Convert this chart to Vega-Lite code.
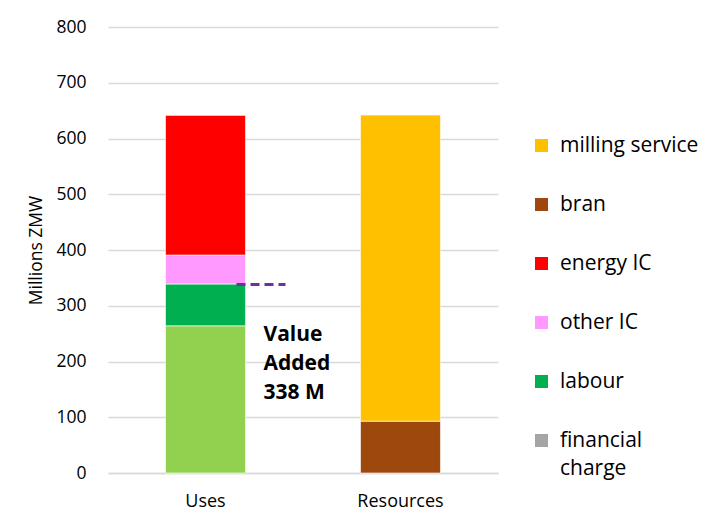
{
  "$schema": "https://vega.github.io/schema/vega-lite/v6.json",
  "autosize": {"type": "none"},
  "padding": {"left": 108, "top": 27, "right": 220, "bottom": 50},
  "width": 390,
  "height": 446,
  "background": "white",
  "config": {
    "font": "Open Sans",
    "view": {"stroke": null},
    "axis": {"labelColor": "#000", "titleColor": "#000", "labelFont": "Open Sans", "titleFont": "Open Sans"},
    "legend": {"labelFont": "Open Sans"},
    "style": {"guide-label": {"lineHeight": 28}}
  },
  "layer": [
    {
      "data": {"values": [
        {"side": "Uses", "item": "operating surplus", "value": 264, "order": 1},
        {"side": "Uses", "item": "labour", "value": 75, "order": 2},
        {"side": "Uses", "item": "other IC", "value": 52, "order": 3},
        {"side": "Uses", "item": "energy IC", "value": 251, "order": 4},
        {"side": "Uses", "item": "financial charge", "value": 0, "order": 5},
        {"side": "Resources", "item": "bran", "value": 93, "order": 1},
        {"side": "Resources", "item": "milling service", "value": 549, "order": 2}
      ]},
      "mark": {"type": "bar", "stroke": "white", "strokeWidth": 0.6},
      "encoding": {
        "x": {"field": "side", "type": "nominal",
          "scale": {"domain": ["Uses", "Resources"], "paddingInner": 0.59, "paddingOuter": 0.295},
          "axis": {"title": null, "labelAngle": 0, "labelFontSize": 18, "ticks": false, "labelPadding": 19, "domainColor": "#d9d9d9", "domainWidth": 1.3}},
        "y": {"field": "value", "type": "quantitative", "stack": "zero",
          "scale": {"domain": [0, 800], "nice": false},
          "axis": {"title": "Millions ZMW", "titleFontSize": 17.5, "titleFontWeight": "normal", "titlePadding": 10,
            "labelFontSize": 17.5, "labelPadding": 22, "ticks": false, "domain": false,
            "values": [0, 100, 200, 300, 400, 500, 600, 700, 800],
            "gridColor": "#d9d9d9", "gridWidth": 1.3}},
        "color": {"field": "item", "type": "nominal",
          "scale": {
            "domain": ["milling service", "bran", "energy IC", "other IC", "labour", "financial charge", "operating surplus"],
            "range": ["#FFC000", "#9E480E", "#FF0000", "#FF99FF", "#00B050", "#A5A5A5", "#92D050"]},
          "legend": {
            "title": null, "orient": "none", "legendX": 423, "legendY": 108,
            "values": ["milling service", "bran", "energy IC", "other IC", "labour", "financial charge"],
            "symbolType": "square", "symbolSize": 169, "symbolStrokeWidth": 0,
            "labelFontSize": 21, "labelOffset": 8, "rowPadding": 37, "labelLimit": 220,
            "labelExpr": "datum.label == 'financial charge' ? ['financial', 'charge'] : datum.label"}},
        "order": {"field": "order", "type": "quantitative"}
      }
    },
    {
      "data": {"values": [{"side": "Uses", "va": 338}]},
      "mark": {"type": "rule", "color": "#7030A0", "strokeWidth": 3, "strokeDash": [9, 5], "xOffset": 31, "x2Offset": 80},
      "encoding": {
        "x": {"field": "side", "type": "nominal"},
        "x2": {"field": "side"},
        "y": {"field": "va", "type": "quantitative"}
      }
    },
    {
      "data": {"values": [{"side": "Uses", "ty": 247.5, "label": "Value\nAdded\n\u2002338 M"}]},
      "mark": {"type": "text", "align": "left", "baseline": "middle", "xOffset": 58, "fontSize": 21, "fontWeight": "bold", "lineHeight": 29, "lineBreak": "\n", "color": "#000"},
      "encoding": {
        "x": {"field": "side", "type": "nominal"},
        "y": {"field": "ty", "type": "quantitative"},
        "text": {"field": "label"}
      }
    }
  ]
}
